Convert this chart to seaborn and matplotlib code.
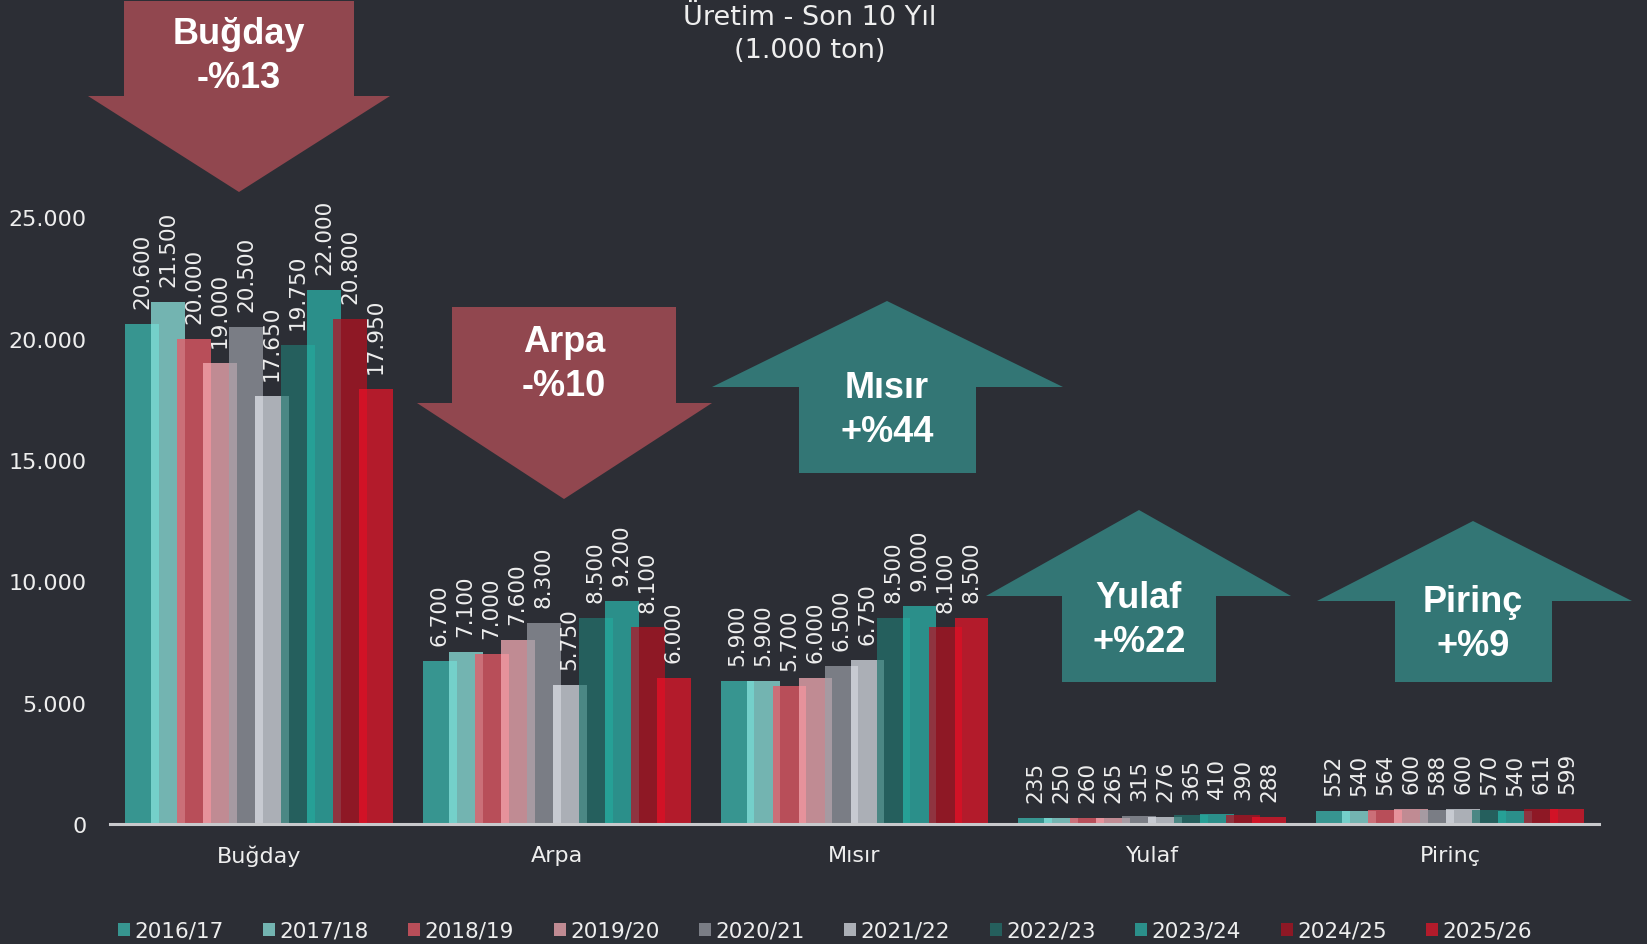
import matplotlib
matplotlib.use("Agg")
import matplotlib.pyplot as plt
from matplotlib.patches import Polygon, Rectangle
from matplotlib.ticker import FuncFormatter
import seaborn as sns
import pandas as pd

# data (1.000 ton)
crops = ["Buğday", "Arpa", "Mısır", "Yulaf", "Pirinç"]
years = ["2016/17", "2017/18", "2018/19", "2019/20", "2020/21",
         "2021/22", "2022/23", "2023/24", "2024/25", "2025/26"]
bugday = [20600, 21500, 20000, 19000, 20500, 17650, 19750, 22000, 20800, 17950]
arpa = [6700, 7100, 7000, 7600, 8300, 5750, 8500, 9200, 8100, 6000]
misir = [5900, 5900, 5700, 6000, 6500, 6750, 8500, 9000, 8100, 8500]
yulaf = [235, 250, 260, 265, 315, 276, 365, 410, 390, 288]
pirinc = [552, 540, 564, 600, 588, 600, 570, 540, 611, 599]
changes = ["-%13", "-%10", "+%44", "+%22", "+%9"]

colors = ["#379590", "#73b4b1", "#b84e59", "#c08b93", "#7a7d85",
          "#abafb6", "#255f5d", "#2b8f8a", "#8e1825", "#b31b2b"]
overlap_colors = [None, "#74d0ca", "#cb6f78", "#e6929b", "#a69aa2",
                  "#c7cad1", "#4b8784", "#26a096", "#8f3440", "#d21226"]

BG = "#2c2e35"
TXT = "#eeeeee"
W, H = 1647, 945

rows = []
for crop, vals in zip(crops, [bugday, arpa, misir, yulaf, pirinc]):
    for yr, v in zip(years, vals):
        rows.append({"crop": crop, "year": yr, "value": v})
df = pd.DataFrame(rows)

sns.set_theme(style="dark", rc={"axes.facecolor": BG, "figure.facecolor": BG})
plt.rcParams["font.family"] = ["DejaVu Sans"]

fig = plt.figure(figsize=(W / 100, H / 100), dpi=100)
ax = fig.add_axes([110 / W, 1 - 825 / H, (1599 - 110) / W, (825 - 218.5) / H])

step = 0.0873
bar_w = 0.114
sns.barplot(data=df, x="crop", y="value", hue="year", order=crops, hue_order=years,
            palette=colors, saturation=1, width=step * len(years), dodge=True,
            errorbar=None, legend=False, ax=ax)

fmt = lambda v: f"{int(round(v)):,}".replace(",", ".")

# widen bars so neighbours overlap, add the lighter overlap strip and labels
prev = None
for j, cont in enumerate(ax.containers):
    cur = []
    for i, bar in enumerate(cont):
        cx = bar.get_x() + bar.get_width() / 2
        h = bar.get_height()
        bar.set_x(cx - bar_w / 2)
        bar.set_width(bar_w)
        bar.set_edgecolor("none")
        bar.set_zorder(2 + j * 0.1)
        if prev is not None:
            p_right, p_h = prev[i]
            ax.add_patch(Rectangle((cx - bar_w / 2, 0), p_right - (cx - bar_w / 2),
                                   min(h, p_h), facecolor=overlap_colors[j],
                                   edgecolor="none", zorder=2 + j * 0.1 + 0.05))
        ax.annotate(fmt(h), xy=(cx, h), xytext=(0, 11.5), textcoords="offset points",
                    rotation=90, ha="center", va="bottom", fontsize=15.5, color=TXT,
                    zorder=5, annotation_clip=False)
        cur.append((cx + bar_w / 2, h))
    prev = cur

ax.set_xlim(-0.5, len(crops) - 0.5)
ax.set_ylim(0, 25000)
ax.set_yticks([0, 5000, 10000, 15000, 20000, 25000])
ax.yaxis.set_major_formatter(FuncFormatter(lambda v, p: fmt(v)))
ax.set_xlabel("")
ax.set_ylabel("")
ax.tick_params(axis="y", length=0, pad=17, labelsize=16, labelcolor=TXT)
ax.tick_params(axis="x", length=0, pad=15, labelsize=16, labelcolor=TXT)
for s in ["left", "right", "top"]:
    ax.spines[s].set_visible(False)
ax.spines["bottom"].set_visible(True)
ax.spines["bottom"].set_color("#c8c9cc")
ax.spines["bottom"].set_linewidth(2.2)
ax.spines["bottom"].set_zorder(6)
ax.grid(False)

# title
fig.text(810 / W, 1 - 18 / H, "Üretim - Son 10 Yıl", ha="center", va="center",
         fontsize=19.5, color=TXT)
fig.text(810 / W, 1 - 51 / H, "(1.000 ton)", ha="center", va="center",
         fontsize=19.5, color=TXT)

# change arrows (figure pixels): body x0, x1, body end y, head base y, head x0, x1, tip x, tip y
arrow_shapes = [
    (124, 354, 2, 97, 88, 390, 239, 193),
    (452, 676, 308, 404, 417, 712, 564, 500),
    (799, 976, 474, 388, 712, 1063, 887, 302),
    (1062, 1216, 683, 597, 986, 1291, 1139, 511),
    (1395, 1552, 683, 602, 1317, 1632, 1473, 522),
]
arrow_text_y = [(35, 79), (342, 387), (389, 433), (598, 642), (603, 647)]

for crop, ch, shp, (ty1, ty2) in zip(crops, changes, arrow_shapes, arrow_text_y):
    x0, x1, yend, ybase, hx0, hx1, tx, ty = shp
    pts = [(x0, yend), (x1, yend), (x1, ybase), (hx1, ybase), (tx, ty), (hx0, ybase), (x0, ybase)]
    col = "#91474f" if ch.startswith("-") else "#337675"
    poly = Polygon([(x / W, 1 - y / H) for x, y in pts], closed=True,
                   transform=fig.transFigure, facecolor=col, edgecolor="none", zorder=3)
    fig.add_artist(poly)
    for txt, yy in [(crop, ty1), (ch, ty2)]:
        fig.text(tx / W, 1 - yy / H, txt, ha="center", va="center", fontsize=26,
                 fontweight="bold", family="Liberation Sans", color="white", zorder=4)

# legend
handles = [Rectangle((0, 0), 1, 1, facecolor=c, edgecolor="none") for c in colors]
fig.legend(handles, years, ncol=len(years), loc="center",
           bbox_to_anchor=(825 / W, 1 - 932 / H), frameon=False, fontsize=15.5,
           labelcolor=TXT, handlelength=0.55, handleheight=0.55, handletextpad=0.2,
           columnspacing=1.85, borderaxespad=0, borderpad=0)

fig.savefig("out.png", dpi=100, facecolor=BG)
